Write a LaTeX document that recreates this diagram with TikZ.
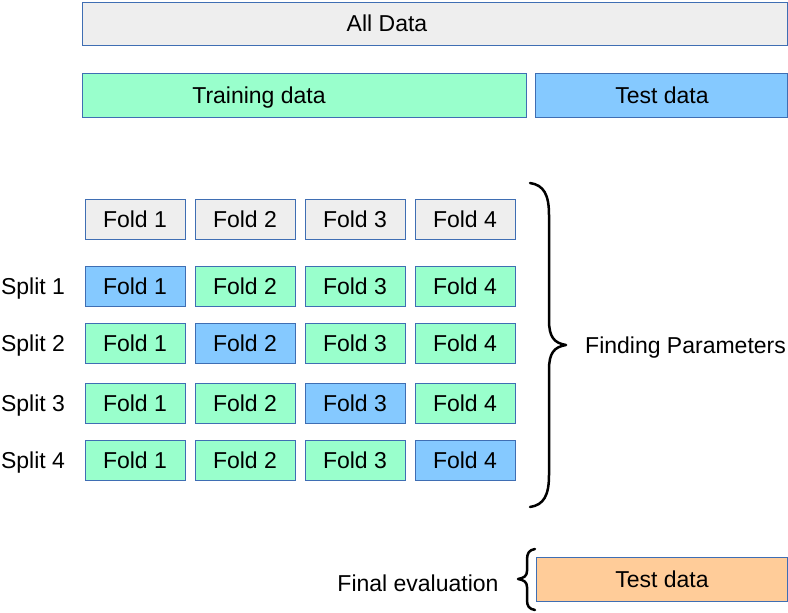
\documentclass[tikz,border=0pt]{standalone}
\usepackage{fontspec}
\setmainfont{Liberation Sans}
\definecolor{edgeblue}{HTML}{3F6EB3}
\definecolor{greyfill}{HTML}{EEEEEE}
\definecolor{mintfill}{HTML}{99FFCC}
\definecolor{bluefill}{HTML}{85C9FF}
\definecolor{orangefill}{HTML}{FFCC99}
\begin{document}
\begin{tikzpicture}[x=1pt,y=-1pt,
  box/.style={draw=edgeblue, line width=1pt, inner sep=0pt, text height=16.5pt, text depth=0pt, font=\fontsize{23}{27}\selectfont},
  greybox/.style={box, fill=greyfill},
  mintbox/.style={box, fill=mintfill},
  bluebox/.style={box, fill=bluefill},
  orangebox/.style={box, fill=orangefill},
  fold/.style={minimum width=100pt, minimum height=40pt},
  lbl/.style={inner sep=0pt, text height=16.5pt, text depth=0pt, font=\fontsize{23}{27}\selectfont},
  bracestyle/.style={line width=2.5pt, line cap=round, line join=round}
]
\useasboundingbox (0,0) rectangle (788,613);
% top bars
\node[greybox, minimum width=705pt, minimum height=43pt] (all) at (434.5,23.5) {};
\node[lbl] (alltext) at (387,23.5) {All Data};
\node[mintbox, minimum width=444pt, minimum height=44pt] (train) at (304,95) {};
\node[lbl] (traintext) at (259,95) {Training data};
\node[bluebox, minimum width=252pt, minimum height=44pt] (test) at (661,95) {};
\node[lbl] (testtext) at (662,95) {Test data};
% fold header row
\node[greybox, fold] (h1) at (135,219) {Fold 1};
\node[greybox, fold] (h2) at (245,219) {Fold 2};
\node[greybox, fold] (h3) at (355,219) {Fold 3};
\node[greybox, fold] (h4) at (465,219) {Fold 4};
% split 1
\node[lbl] (s1) at (33,286) {Split 1};
\node[bluebox, fold] (a1) at (135,286) {Fold 1};
\node[mintbox, fold] (a2) at (245,286) {Fold 2};
\node[mintbox, fold] (a3) at (355,286) {Fold 3};
\node[mintbox, fold] (a4) at (465,286) {Fold 4};
% split 2
\node[lbl] (s2) at (33,343) {Split 2};
\node[mintbox, fold] (b1) at (135,343) {Fold 1};
\node[bluebox, fold] (b2) at (245,343) {Fold 2};
\node[mintbox, fold] (b3) at (355,343) {Fold 3};
\node[mintbox, fold] (b4) at (465,343) {Fold 4};
% split 3
\node[lbl] (s3) at (33,403) {Split 3};
\node[mintbox, fold] (c1) at (135,403) {Fold 1};
\node[mintbox, fold] (c2) at (245,403) {Fold 2};
\node[bluebox, fold] (c3) at (355,403) {Fold 3};
\node[mintbox, fold] (c4) at (465,403) {Fold 4};
% split 4
\node[lbl] (s4) at (33,460) {Split 4};
\node[mintbox, fold] (d1) at (135,460) {Fold 1};
\node[mintbox, fold] (d2) at (245,460) {Fold 2};
\node[mintbox, fold] (d3) at (355,460) {Fold 3};
\node[bluebox, fold] (d4) at (465,460) {Fold 4};
% big brace
\draw[bracestyle] (530,183) .. controls (544,185) and (549,195) .. (549,215)
  -- (549,320) .. controls (549,337) and (554,343) .. (566,345)
  .. controls (554,347) and (549,353) .. (549,370)
  -- (549,475) .. controls (549,495) and (544,505) .. (530,507);
\node[lbl, anchor=west] (fp) at (585,345) {Finding Parameters};
% final evaluation
\node[lbl] (fe) at (418,583) {Final evaluation};
\draw[bracestyle] (535,549) .. controls (529,550) and (527,553) .. (527,560)
  -- (527,571) .. controls (527,576) and (524,578) .. (518,579)
  .. controls (524,580) and (527,582) .. (527,587)
  -- (527,600) .. controls (527,606) and (529,609) .. (535,610);
\node[orangebox, minimum width=251pt, minimum height=44pt] (final) at (661.5,579) {};
\node[lbl] (finaltext) at (662,579) {Test data};
\end{tikzpicture}
\end{document}
